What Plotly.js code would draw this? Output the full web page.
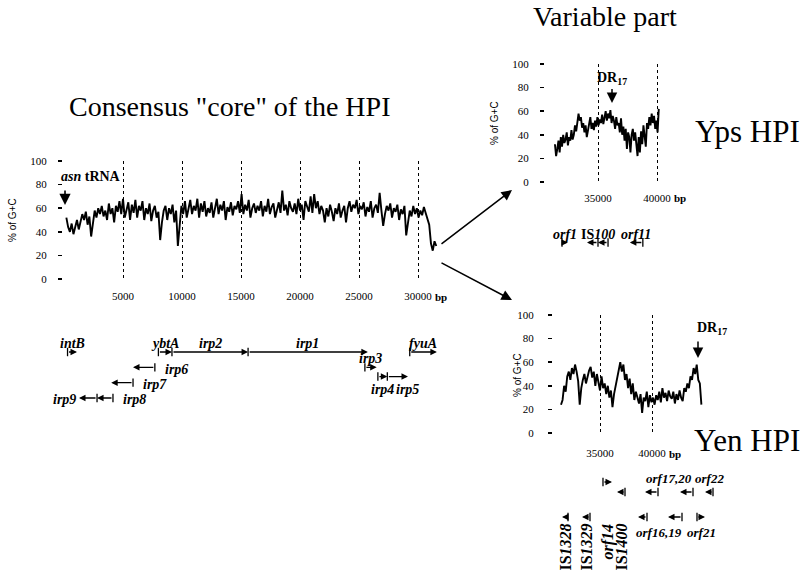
<!DOCTYPE html>
<html><head><meta charset="utf-8">
<script src="https://cdn.plot.ly/plotly-3.0.1.min.js"></script>
<style>html,body{margin:0;padding:0;background:#fff}#chart{width:800px;height:576px}</style>
</head><body><div id="chart"></div>
<script>
// ================= DATA =================
// Consensus core: % G+C along the island (window start + step, bp)
const coreStart = 200, coreStep = 150;
const coreGC = [
 52,44,40,47,38,45,50,42,48,55,
 50,57,46,53,36,48,58,52,60,55,
 62,53,58,50,64,55,60,48,62,57,
 66,55,68,52,60,65,50,63,56,67,
 52,62,58,66,50,60,55,64,49,58,
 62,52,57,33,48,58,62,50,60,55,
 63,48,58,28,45,62,55,66,52,60,
 67,55,62,58,68,52,64,57,66,53,
 60,56,65,52,62,68,55,63,58,66,
 50,61,57,65,54,62,59,66,56,72,
 55,63,58,67,52,60,64,56,62,58,
 66,53,62,57,68,55,61,64,52,60,
 65,56,75,58,63,54,66,60,57,64,
 55,68,58,63,50,66,61,57,70,56,
 72,60,66,55,62,58,48,60,53,63,
 57,49,60,55,64,52,58,62,48,60,
 66,57,63,60,67,55,62,59,65,53,
 61,57,66,52,60,63,56,73,58,45,
 55,62,58,64,52,60,57,63,50,59,
 55,62,37,48,58,53,62,55,60,52,
 58,54,61,56,50,46,30,24,32,28
];
// Variable part, Yps HPI
const ypsStart = 31350, ypsStep = 100;
const ypsGC = [
 32,22,28,35,25,38,30,40,33,36,
 42,31,38,35,44,36,40,48,43,50,
 58,52,55,46,50,42,48,38,45,52,
 55,45,50,44,52,47,55,48,53,50,
 57,49,55,60,52,58,54,61,50,56,
 52,45,55,48,50,42,54,40,47,35,
 45,28,42,38,25,40,45,35,42,30,
 22,38,25,43,32,48,40,30,50,45,
 55,48,58,50,56,45,52,42,62
];
// Variable part, Yen HPI
const yenStart = 31250, yenStep = 150;
const yenGC = [
 24,28,40,35,48,52,45,55,50,58,
 52,44,24,38,45,50,42,48,53,56,
 47,52,40,50,44,36,48,38,42,33,
 40,30,36,22,33,40,48,55,60,52,
 58,45,50,38,46,33,42,28,35,30,
 25,33,17,30,27,35,22,32,26,30,
 24,32,28,35,26,38,30,34,27,36,
 31,29,35,25,33,28,36,30,27,38,
 35,42,38,48,45,55,50,58,45,42,24
];
const coreTicks = [5000, 10000, 15000, 20000, 25000, 30000];
const varTicks = [35000, 40000];
const gcTicks = [0, 20, 40, 60, 80, 100];

// Genes (bp from -> to, arrow points to "to"), track = map row
const coreGeneFrom  = [300, 8000, 9150, 15600, 29300, 7700, 25500, 5850, 26600, 27400, 4150, 2800];
const coreGeneTo    = [1100, 9150, 15600, 25750, 31600, 5850, 26500, 4000, 27400, 29150, 2800, 1270];
const coreGeneTrack = [0, 0, 0, 0, 0, 1, 1, 2, 1.6, 1.6, 3, 3];
const coreLabels = ['<i>intB</i>','<i>ybtA</i>','<i>irp2</i>','<i>irp1</i>','<i>fyuA</i>','<i>irp6</i>','<i>irp3</i>','<i>irp7</i>','<i>irp4</i>','<i>irp5</i>','<i>irp8</i>','<i>irp9</i>'];
const coreLabelGenes = [[0],[1],[2],[3],[4],[5],[6],[7],[8],[9],[10],[11]];
const coreLabelSide = ['above','above','above','above','above','right','above','right','below','belowEnd','right','left'];

const ypsGeneFrom  = [31950, 35850, 35000, 38800];
const ypsGeneTo    = [32450, 35000, 34070, 37700];
const ypsGeneTrack = [0, 0, 0, 0];
const ypsLabels = ['<i>orf1</i>', 'IS<i>100</i>', '<i>orf11</i>'];
const ypsLabelGenes = [[0], [1, 2], [3]];
const ypsLabelSide = ['above', 'above', 'above'];

const yenGeneFrom  = [35288, 37404, 40577, 43942, 45865, 31923, 34038, 39519, 42884, 44327];
const yenGeneTo    = [36154, 36635, 39327, 42692, 45096, 31346, 33269, 38654, 41538, 45096];
const yenGeneTrack = [0, 1, 1, 1, 1, 3.5, 3.5, 3.5, 3.5, 3.5];
const yenLabels = ['<i>orf17,20</i>', '<i>orf22</i>', '<i>orf16,19</i>', '<i>orf21</i>', 'IS<i>1328</i>', 'IS<i>1329</i>', '<i>orf14</i>', 'IS<i>1400</i>'];
const yenLabelGenes = [[2, 3], [4], [7, 8], [9], [5], [6], [0], [1]];
const yenLabelSide = ['above', 'above', 'below', 'below', 'vertical', 'vertical', 'vertical', 'vertical'];

// Markers: asn tRNA on core, DR17 on both variable parts (bp, %GC at arrow tip)
const asnPos = 85, asnGC = 62.7;
const drYpsPos = 36186, drYpsGC = 67;
const drYenPos = 44423, drYenGC = 63.6;

// ================= LAYOUT HELPERS =================
const W = 800, H = 576;
const px = v => v / W;
const py = v => 1 - v / H;
const serif = 'Liberation Serif';
const grid = (start, step, arr) => arr.map((_, i) => start + i * step);

const coreRange = [-85, 31864], ypsRange = [30508, 40424], yenRange = [30481, 46538];
const coreDom = [px(63), px(440)], ypsDom = [px(545), px(662)], yenDom = [px(553), px(720)];

function gcXAxis(dom, range, ticks, anchor, standoff) {
  return {domain: dom, range: range, anchor: anchor, tickvals: ticks, tickformat: 'd', ticks: '',
    showline: false, zeroline: false, showgrid: true, griddash: 'dot', gridcolor: '#000', gridwidth: 1,
    ticklabelstandoff: standoff, tickfont: {family: serif, size: 11, color: '#000'}, fixedrange: true};
}
function gcYAxis(domTopPx, domBotPx, anchor, standoff) {
  return {domain: [py(domBotPx), py(domTopPx)], range: [0, 100], anchor: anchor, tickvals: gcTicks, tickformat: 'd',
    ticks: 'outside', ticklen: 4, tickwidth: 1.5, tickcolor: '#000', showline: false, zeroline: false,
    showgrid: false, ticklabelstandoff: standoff, tickfont: {family: serif, size: 11, color: '#000'}, fixedrange: true};
}
function hiddenX(dom, range, anchor) {
  return {domain: dom, range: range, anchor: anchor, visible: false, fixedrange: true};
}
function hiddenY(domTopPx, domBotPx, range, anchor) {
  return {domain: [py(domBotPx), py(domTopPx)], range: range, anchor: anchor, visible: false, fixedrange: true};
}

const lineStyle = {color: '#000', width: 1.9};
const traces = [
  {x: grid(coreStart, coreStep, coreGC), y: coreGC, xaxis: 'x', yaxis: 'y', mode: 'lines', line: lineStyle, hoverinfo: 'skip'},
  {x: grid(ypsStart, ypsStep, ypsGC), y: ypsGC, xaxis: 'x2', yaxis: 'y2', mode: 'lines', line: lineStyle, hoverinfo: 'skip'},
  {x: grid(yenStart, yenStep, yenGC), y: yenGC, xaxis: 'x3', yaxis: 'y3', mode: 'lines', line: lineStyle, hoverinfo: 'skip'}
];

const annotations = [];

function addGenes(from, to, track, labels, labelGenes, sides, xa, ya, cfg) {
  const geneFont = {family: serif, size: cfg.size, color: '#000'};
  traces.push({x: from, y: track, xaxis: xa, yaxis: ya, mode: 'markers', cliponaxis: false, hoverinfo: 'skip',
    marker: {symbol: 'line-ns', size: 6, line: {width: 1.3, color: '#000'}}});
  for (let i = 0; i < from.length; i++) {
    annotations.push({xref: xa, yref: ya, axref: xa, ayref: ya, x: to[i], y: track[i], ax: from[i], ay: track[i],
      text: '', showarrow: true, arrowhead: 2, arrowsize: 1, arrowwidth: 1.3, arrowcolor: '#000', standoff: 0});
  }
  labels.forEach((t, k) => {
    const idx = labelGenes[k];
    const cx = idx.reduce((s, i) => s + (from[i] + to[i]) / 2, 0) / idx.length;
    const a = {xref: xa, yref: ya, x: cx, y: track[idx[0]], text: '<b>' + t + '</b>', showarrow: false, font: geneFont,
      xanchor: 'center', yanchor: 'middle'};
    const s = sides[k];
    if (s === 'above') a.yshift = cfg.above;
    else if (s === 'below') a.yshift = -cfg.below;
    else if (s === 'belowEnd') { a.x = to[idx[0]]; a.yshift = -cfg.below; }
    else if (s === 'right') { a.x = Math.max(from[idx[0]], to[idx[0]]); a.xanchor = 'left'; a.xshift = 8; a.yshift = -2; }
    else if (s === 'left') { a.x = Math.min(from[idx[0]], to[idx[0]]); a.xanchor = 'right'; a.xshift = -1; a.yshift = -2; }
    else if (s === 'vertical') { a.y = cfg.vTrack; a.textangle = -90; a.yanchor = 'top'; a.yshift = -5;
      a.font = {family: serif, size: 16, color: '#000'}; }
    annotations.push(a);
  });
}

addGenes(coreGeneFrom, coreGeneTo, coreGeneTrack, coreLabels, coreLabelGenes, coreLabelSide, 'x4', 'y4', {size: 14, above: 9, below: 13});
addGenes(ypsGeneFrom, ypsGeneTo, ypsGeneTrack, ypsLabels, ypsLabelGenes, ypsLabelSide, 'x5', 'y5', {size: 14, above: 8, below: 13});
addGenes(yenGeneFrom, yenGeneTo, yenGeneTrack, yenLabels, yenLabelGenes, yenLabelSide, 'x6', 'y6', {size: 13, above: 14, below: 15, vTrack: 3.5});

// text annotations (paper placed, explicitly centred)
const txt = (x, y, text, size, extra) => Object.assign({xref: 'paper', yref: 'paper', x: px(x), y: py(y), text: text,
  xanchor: 'center', yanchor: 'middle', showarrow: false, font: {family: serif, size: size, color: '#000'}}, extra || {});
annotations.push(txt(229, 106, 'Consensus "core" of the HPI', 28));
annotations.push(txt(605, 17, 'Variable part', 28));
annotations.push(txt(747, 131, 'Yps HPI', 31));
annotations.push(txt(747, 440, 'Yen HPI', 31));
const ytitle = (x, y) => txt(x, y, '% of G+C', 10, {textangle: -90, font: {family: 'Liberation Sans', size: 10, color: '#000'}});
annotations.push(ytitle(12, 220), ytitle(495, 123), ytitle(517, 375));
// "bp" unit after last labelled tick
const bp = (xa, xv, y) => ({xref: xa, yref: 'paper', x: xv, y: py(y), xanchor: 'left', yanchor: 'middle', xshift: 15, text: '<b>bp</b>',
  showarrow: false, font: {family: serif, size: 11, color: '#000'}});
annotations.push(bp('x', coreTicks[coreTicks.length - 1], 297), bp('x2', varTicks[1], 198), bp('x3', varTicks[1], 454));
// asn tRNA
annotations.push({xref: 'x', yref: 'y', x: asnPos, y: asnGC, ax: 0, ay: -16, text: '', showarrow: true,
  arrowhead: 2, arrowsize: 1.4, arrowwidth: 1.6, arrowcolor: '#000', standoff: 0});
annotations.push(txt(91, 176, '<b><i>asn</i> tRNA</b>', 14));
// DR17 Yps
annotations.push({xref: 'x2', yref: 'y2', x: drYpsPos, y: drYpsGC, ax: 0, ay: -24, text: '<b>DR<sub>17</sub></b>',
  showarrow: true, arrowhead: 2, arrowsize: 1.4, arrowwidth: 1.5, arrowcolor: '#000', standoff: 0,
  font: {family: serif, size: 14, color: '#000'}});
// DR17 Yen
annotations.push({xref: 'x3', yref: 'y3', x: drYenPos, y: drYenGC, ax: 0, ay: -18, text: '', showarrow: true,
  arrowhead: 2, arrowsize: 1.4, arrowwidth: 1.5, arrowcolor: '#000', standoff: 0});
annotations.push(txt(712, 328, '<b>DR<sub>17</sub></b>', 14));
// connecting arrows
annotations.push({xref: 'paper', yref: 'paper', x: px(512), y: py(190), ax: -72, ay: 55, text: '', showarrow: true,
  arrowhead: 2, arrowsize: 1.4, arrowwidth: 1.5, arrowcolor: '#000', standoff: 0});
annotations.push({xref: 'paper', yref: 'paper', x: px(512), y: py(300), ax: -72, ay: -38, text: '', showarrow: true,
  arrowhead: 2, arrowsize: 1.4, arrowwidth: 1.5, arrowcolor: '#000', standoff: 0});

const layout = {
  width: W, height: H, margin: {l: 0, r: 0, t: 0, b: 0}, paper_bgcolor: '#fff', plot_bgcolor: 'rgba(0,0,0,0)',
  font: {family: serif, color: '#000'},
  showlegend: false, hovermode: false,
  xaxis: gcXAxis(coreDom, coreRange, coreTicks, 'y', 9),
  yaxis: gcYAxis(161, 279, 'x', 9),
  xaxis2: gcXAxis(ypsDom, ypsRange, varTicks, 'y2', 8),
  yaxis2: gcYAxis(64, 182, 'x2', 9),
  xaxis3: gcXAxis(yenDom, yenRange, varTicks, 'y3', 12),
  yaxis3: gcYAxis(315, 433, 'x3', 12),
  xaxis4: hiddenX(coreDom, coreRange, 'y4'),
  yaxis4: hiddenY(337, 413, [3.98, -0.98], 'x4'),
  xaxis5: hiddenX(ypsDom, ypsRange, 'y5'),
  yaxis5: hiddenY(225, 260, [1.75, -1.75], 'x5'),
  xaxis6: hiddenX(yenDom, yenRange, 'y6'),
  yaxis6: hiddenY(465, 545, [6.3, -1.7], 'x6'),
  annotations: annotations
};
Plotly.newPlot('chart', traces, layout, {staticPlot: true, displayModeBar: false});
</script></body></html>
